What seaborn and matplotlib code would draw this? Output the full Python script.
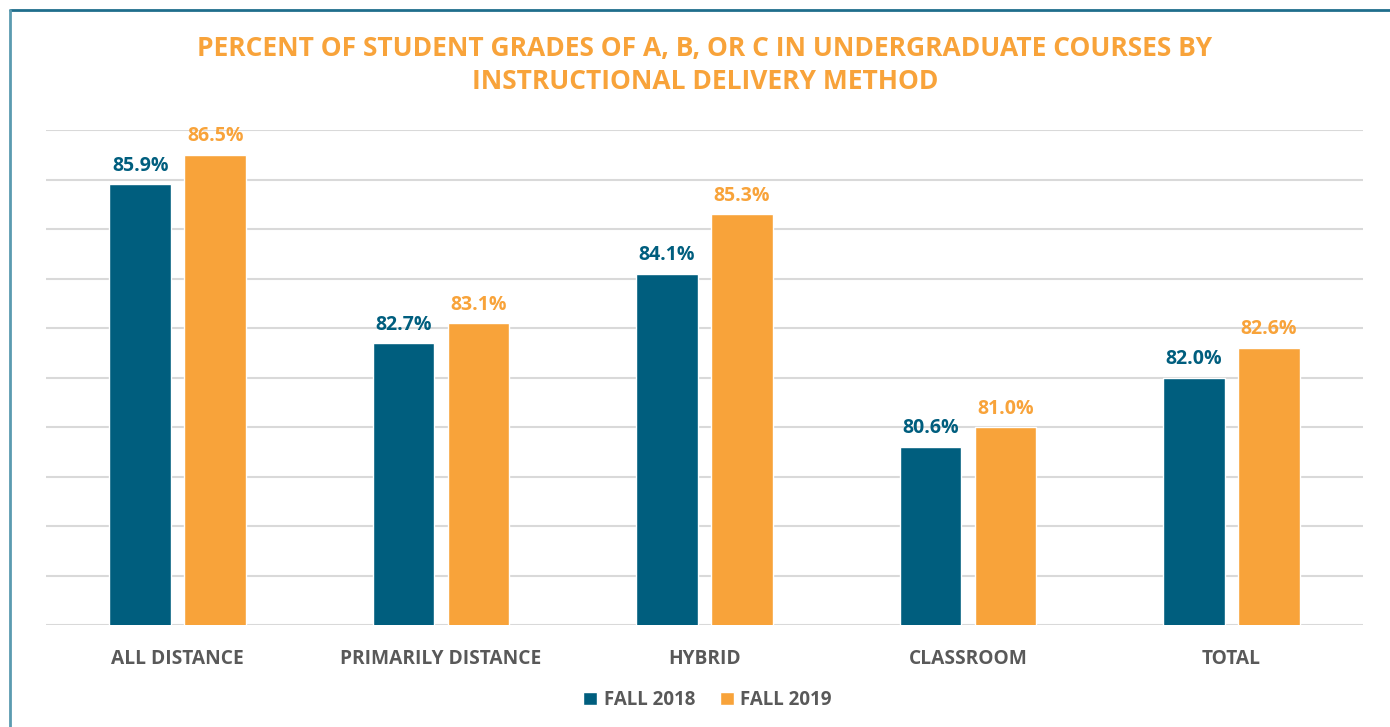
import matplotlib
matplotlib.use("Agg")
import matplotlib.pyplot as plt
import seaborn as sns
import pandas as pd
from matplotlib.lines import Line2D

categories = ["ALL DISTANCE", "PRIMARILY DISTANCE", "HYBRID", "CLASSROOM", "TOTAL"]
fall_2018 = [85.9, 82.7, 84.1, 80.6, 82.0]
fall_2019 = [86.5, 83.1, 85.3, 81.0, 82.6]
series = ["FALL 2018", "FALL 2019"]
title = "PERCENT OF STUDENT GRADES OF A, B, OR C IN UNDERGRADUATE COURSES BY\nINSTRUCTIONAL DELIVERY METHOD"

BLUE = "#005E7E"
ORANGE = "#F8A33A"
GRAY_TXT = "#595959"

df = pd.DataFrame({
    "category": categories * 2,
    "value": fall_2018 + fall_2019,
    "series": [series[0]] * len(categories) + [series[1]] * len(categories),
})

sns.set_theme(style="white")
plt.rcParams["font.family"] = ["Open Sans", "DejaVu Sans"]

fig = plt.figure(figsize=(13.9, 7.27), dpi=100)
ax = fig.add_axes([46 / 1390, 1 - 625 / 727, (1363 - 46) / 1390, (625 - 130) / 727])

sns.barplot(data=df, x="category", y="value", hue="series",
            palette=[BLUE, ORANGE], width=0.57, gap=0.18,
            saturation=1, ax=ax, zorder=3)

ax.set_ylim(77, 87)
ax.set_xlim(-0.5, len(categories) - 0.5)
ax.set_yticks(range(77, 88))
ax.yaxis.grid(True, color="#D9D9D9", linewidth=1.5, zorder=0)
ax.set_axisbelow(True)
ax.tick_params(axis="y", left=False, labelleft=False)
ax.tick_params(axis="x", bottom=False, pad=11)
for s in ax.spines.values():
    s.set_visible(False)
ax.set_xlabel("")
ax.set_ylabel("")
for lbl in ax.get_xticklabels():
    lbl.set_fontweight("bold")
    lbl.set_fontsize(13.8)
    lbl.set_color(GRAY_TXT)

for cont, col in zip(ax.containers, [BLUE, ORANGE]):
    ax.bar_label(cont, labels=[f"{v:.1f}%" for v in cont.datavalues],
                 padding=6, color=col, fontsize=14, fontweight="bold",
                 clip_on=False)

leg = ax.legend(loc="center", bbox_to_anchor=(0.509, 1 - 700 / 727),
                bbox_transform=fig.transFigure, ncol=2, frameon=False,
                handlelength=0.75, handleheight=0.75, handletextpad=0.35,
                columnspacing=1.3, prop={"weight": "bold", "size": 13.5})
for t in leg.get_texts():
    t.set_color(GRAY_TXT)

fig.text(0.507, 1 - 65 / 727, title, ha="center", va="center",
         color=ORANGE, fontsize=19, fontweight="bold", linespacing=1.3)

# frame border
fig.add_artist(Line2D([10 / 1390, 1.0], [1 - 10 / 727, 1 - 10 / 727],
                      transform=fig.transFigure, color="#1F6E8C", linewidth=2))
fig.add_artist(Line2D([10 / 1390, 10 / 1390], [1 - 10 / 727, 0],
                      transform=fig.transFigure, color="#5B9BB0", linewidth=2))

fig.savefig("out.png", dpi=100, facecolor="white")
